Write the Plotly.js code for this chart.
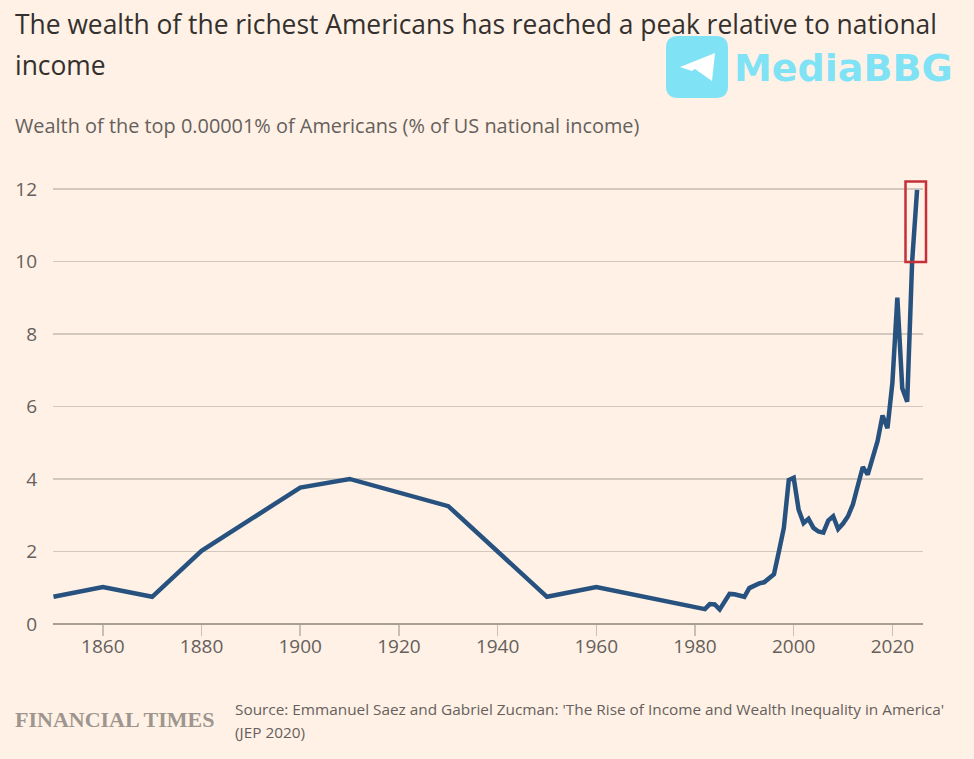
<!DOCTYPE html>
<html><head><meta charset="utf-8">
<script src="https://cdn.plot.ly/plotly-3.0.1.min.js"></script>
<style>html,body{margin:0;padding:0;background:#fff1e5;overflow:hidden}#c{width:974px;height:759px}</style>
</head><body><div id="c"></div>
<script>
const years = [1850,1860,1870,1880,1900,1910,1930,1950,1960,1982,1983,1984,1985,1986,1987,1988,1989,1990,1991,1992,1993,1994,1995,1996,1997,1998,1999,2000,2001,2002,2003,2004,2005,2006,2007,2008,2009,2010,2011,2012,2013,2014,2015,2016,2017,2018,2019,2020,2021,2022,2023,2024,2025];
const wealth = [0.75,1.02,0.75,2.02,3.76,4.0,3.25,0.75,1.02,0.41,0.55,0.54,0.40,0.60,0.83,0.82,0.79,0.75,0.99,1.07,1.12,1.15,1.25,1.37,2.0,2.65,3.97,4.03,3.15,2.78,2.9,2.65,2.55,2.52,2.85,2.97,2.62,2.77,2.97,3.3,3.82,4.33,4.12,4.6,5.05,5.75,5.4,6.65,9.0,6.5,6.13,10.0,11.97];
const xTicks = [1860,1880,1900,1920,1940,1960,1980,2000,2020];
const yTicks = [0,2,4,6,8,10,12];
const titleLine1 = "The wealth of the richest Americans has reached a peak relative to national";
const titleLine2 = "income";
const subtitleText = "Wealth of the top 0.00001% of Americans (% of US national income)";
const sourceLine1 = "Source: Emmanuel Saez and Gabriel Zucman: 'The Rise of Income and Wealth Inequality in America'";
const sourceLine2 = "(JEP 2020)";
const logoText = "FINANCIAL TIMES";
const watermarkText = "MediaBBG";

const W=974,H=759,L=53,R=923,T=170,B=624;
const px=x=>(x-L)/(R-L), py=y=>(B-y)/(B-T);
const font='"Open Sans", sans-serif';
const wm='#7fe3f5';
const note=(text,x,y,f)=>({text,xref:'paper',yref:'paper',x:px(x),y:py(y),xanchor:'left',yanchor:'middle',align:'left',showarrow:false,font:f});
Plotly.newPlot('c',[{
  x:years,y:wealth,type:'scatter',mode:'lines',
  line:{color:'#27527f',width:4.5,shape:'linear'},hoverinfo:'skip'
}],{
  width:W,height:H,
  paper_bgcolor:'#fff1e5',plot_bgcolor:'#fff1e5',
  margin:{l:L,r:W-R,t:T,b:H-B,pad:0},
  showlegend:false,
  font:{family:font,color:'#66605c'},
  xaxis:{range:[1849.9,2026.2],tickvals:xTicks,ticks:'outside',ticklen:11,tickwidth:1.5,tickcolor:'#c9bfb5',
    showgrid:false,zeroline:false,showline:false,tickfont:{size:19,color:'#66605c',family:font},ticklabelstandoff:-6},
  yaxis:{range:[0,12.52],tickvals:yTicks,ticks:'',ticklabelstandoff:15,showgrid:true,gridcolor:'#d2c8be',gridwidth:1.5,
    zeroline:true,zerolinecolor:'#a79e96',zerolinewidth:1.5,showline:false,tickfont:{size:19,color:'#66605c',family:font}},
  shapes:[
    {type:'rect',xref:'paper',yref:'paper',x0:px(905.5),x1:px(926),y0:py(262),y1:py(181.5),line:{color:'#c42f38',width:2.5},fillcolor:'rgba(0,0,0,0)',layer:'above'},
    {type:'path',xref:'paper',yref:'paper',
     path:`M ${px(678)} ${py(36)} L ${px(716)} ${py(36)} Q ${px(728)} ${py(36)} ${px(728)} ${py(48)} L ${px(728)} ${py(86)} Q ${px(728)} ${py(98)} ${px(716)} ${py(98)} L ${px(678)} ${py(98)} Q ${px(666)} ${py(98)} ${px(666)} ${py(86)} L ${px(666)} ${py(48)} Q ${px(666)} ${py(36)} ${px(678)} ${py(36)} Z`,
     fillcolor:wm,line:{width:0},layer:'above'},
    {type:'path',xref:'paper',yref:'paper',
     path:`M ${px(680)} ${py(67)} L ${px(715)} ${py(53)} L ${px(712)} ${py(81)} L ${px(695)} ${py(69)} L ${px(706)} ${py(61)} L ${px(692)} ${py(71)} Z`,
     fillcolor:'#ffffff',line:{width:0},layer:'above'}
  ],
  annotations:[
    note(titleLine1,13,24,{family:font,size:26.4,color:'#33302e'}),
    note(titleLine2,13,65,{family:font,size:26.4,color:'#33302e'}),
    note(subtitleText,13,126,{family:font,size:19.9,color:'#66605c'}),
    note(logoText,13,719,{family:'"Liberation Serif", serif',size:22,color:'#9e968e',weight:700}),
    note(sourceLine1,233,709,{family:font,size:15.35,color:'#66605c'}),
    note(sourceLine2,233,732,{family:font,size:15.35,color:'#66605c'}),
    note(watermarkText,732,68,{family:'"DejaVu Sans", sans-serif',size:38,color:wm,weight:700})
  ]
},{displayModeBar:false,staticPlot:true});
</script></body></html>
